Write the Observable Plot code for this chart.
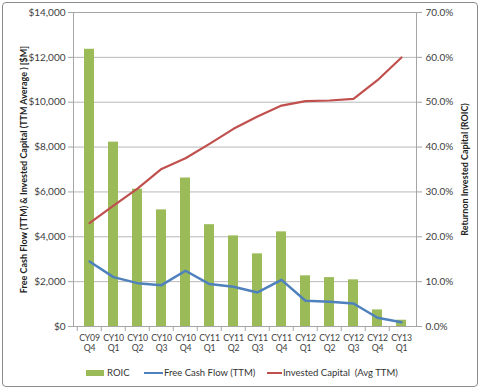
<!DOCTYPE html>
<html>
<head>
<meta charset="utf-8">
<script src="https://cdn.jsdelivr.net/npm/d3@7"></script>
<script src="https://cdn.jsdelivr.net/npm/@observablehq/plot@0.6"></script>
<style>
  html, body { margin: 0; padding: 0; background: #fff; }
  #wrap { position: relative; width: 480px; height: 389px; overflow: hidden; font-family: Lato, "Open Sans", sans-serif; }
  #frame { position: absolute; left: 2px; top: 2px; width: 474px; height: 383px; border: 1px solid #8c8c8c; border-radius: 4px; pointer-events: none; }
  #chart { position: absolute; left: 0; top: 0; }
  g[aria-label="y-axis label"] text { font-weight: bold; font-size: 9px; fill: #222; }
  g[aria-label="x-axis tick label"] text { letter-spacing: -0.2px; }
  #legend { position: absolute; left: 0; top: 366px; width: 480px; height: 14px; font-size: 9.5px; color: #333; }
  #legend .it { position: absolute; top: 0; line-height: 14px; white-space: pre; }
  #legend .sw { position: absolute; }
</style>
</head>
<body>
<div id="wrap">
  <div id="chart"></div>
  <div id="legend"></div>
  <div id="frame"></div>
</div>
<script>
const categories = ["CY09\nQ4","CY10\nQ1","CY10\nQ2","CY10\nQ3","CY10\nQ4","CY11\nQ1","CY11\nQ2","CY11\nQ3","CY11\nQ4","CY12\nQ1","CY12\nQ2","CY12\nQ3","CY12\nQ4","CY13\nQ1"];
const roic = [61.8, 41.1, 30.6, 26.0, 33.1, 22.7, 20.2, 16.2, 21.1, 11.3, 10.9, 10.4, 3.7, 1.4];
const freeCashFlow = [2900, 2200, 1933, 1843, 2487, 1893, 1772, 1518, 2080, 1147, 1103, 1027, 390, 192];
const investedCapital = [4610, 5388, 6147, 7027, 7500, 8143, 8813, 9362, 9850, 10045, 10076, 10147, 10982, 11996];
const leftTicks = [0, 2000, 4000, 6000, 8000, 10000, 12000, 14000];
const rightTicks = [0, 10, 20, 30, 40, 50, 60, 70];
const seriesNames = ["ROIC", "Free Cash Flow (TTM)", "Invested Capital  (Avg TTM)"];
const colors = ["#9BBB59", "#4F81BD", "#C0504D"];

const ratio = 14000 / 70; // right-axis % to left-axis $M
const data = categories.map((c, i) => ({cat: c, roic: roic[i], fcf: freeCashFlow[i], ic: investedCapital[i]}));

const chart = Plot.plot({
  width: 480,
  height: 362,
  marginLeft: 73,
  marginRight: 64,
  marginTop: 12,
  marginBottom: 36,
  style: {fontFamily: "Lato, 'Open Sans', sans-serif", fontSize: "10px", color: "#404040", background: "transparent"},
  x: {domain: categories, paddingInner: 0.6, paddingOuter: 0.3, axis: null},
  y: {domain: [0, 14000], axis: null},
  marks: [
    Plot.gridY(leftTicks, {stroke: "#b8b8b8", strokeOpacity: 1}),
    Plot.frame({stroke: "#a6a6a6"}),
    Plot.barY(data, {x: "cat", y: d => d.roic * ratio, fill: colors[0]}),
    Plot.line(data, {x: "cat", y: "fcf", stroke: colors[1], strokeWidth: 2.5}),
    Plot.line(data, {x: "cat", y: "ic", stroke: colors[2], strokeWidth: 2.2}),
    Plot.axisY(leftTicks, {
      anchor: "left", tickSize: 5, tickPadding: 3, stroke: "#a6a6a6",
      tickFormat: d => "$" + d3.format(",")(d),
      label: "Free Cash Flow (TTM) & Invested Capital (TTM Average ) [$M]",
      labelAnchor: "center", labelArrow: "none", labelOffset: 53
    }),
    Plot.axisY(rightTicks.map(d => d * ratio), {
      anchor: "right", tickSize: 5, tickPadding: 4, stroke: "#a6a6a6",
      tickFormat: d => (d / ratio).toFixed(1) + "%",
      label: "Returnon Invested Capital (ROIC)",
      labelAnchor: "center", labelArrow: "none", labelOffset: 51
    }),
    Plot.axisX(categories, {anchor: "bottom", tickSize: 0, tickPadding: 8, lineHeight: 1.1, fontSize: 8.7, label: null}),
    Plot.axisX(categories, {anchor: "bottom", tickSize: 5, dx: -12.25, stroke: "#a6a6a6", tickFormat: () => "", label: null})
  ]
});
document.getElementById("chart").appendChild(chart);

// legend
const legend = document.getElementById("legend");
const items = [
  {sw: {left: 86, top: 4, width: 18, height: 6}, text: 107},
  {sw: {left: 144, top: 6, width: 19, height: 2}, text: 164},
  {sw: {left: 267, top: 6, width: 15, height: 2}, text: 283}
];
items.forEach((it, i) => {
  const s = document.createElement("div");
  s.className = "sw";
  Object.assign(s.style, {left: it.sw.left + "px", top: it.sw.top + "px", width: it.sw.width + "px", height: it.sw.height + "px", background: colors[i]});
  legend.appendChild(s);
  const t = document.createElement("div");
  t.className = "it";
  t.style.left = it.text + "px";
  t.textContent = seriesNames[i];
  legend.appendChild(t);
});
</script>
</body>
</html>
